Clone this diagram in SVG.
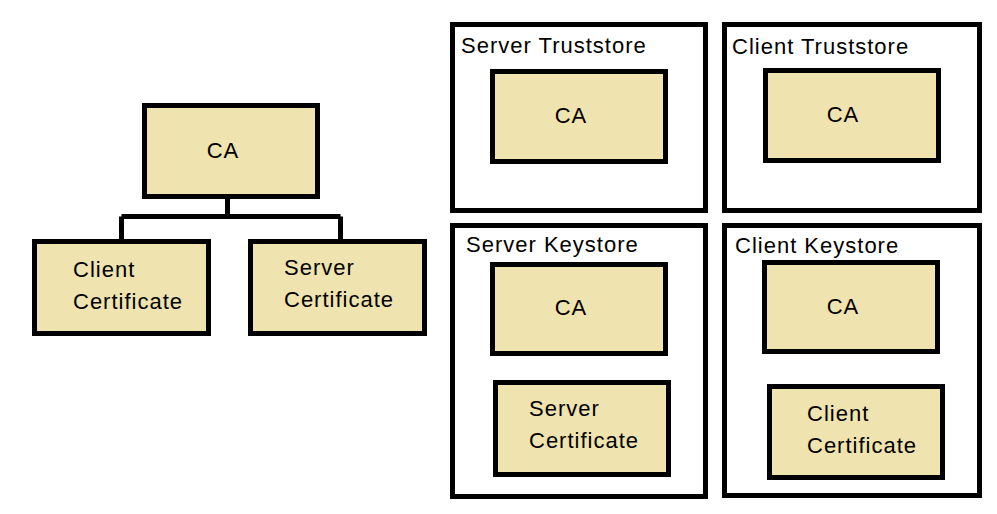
<svg xmlns="http://www.w3.org/2000/svg" width="997" height="514" viewBox="0 0 997 514">
<style>
.b{fill:#EFE3AF;stroke:#000;stroke-width:5}
.o{fill:#fff;stroke:#000;stroke-width:5}
.c{fill:none;stroke:#000;stroke-width:5}
text{font-family:"Liberation Sans",Arial,sans-serif;font-size:22px;fill:#000;letter-spacing:1px}
.m{text-anchor:middle}
</style>
<rect width="997" height="514" fill="#fff"/>
<g id="connectors">
<path class="c" d="M227.5,198.5V216.5M121.5,216.5H340.5M121.5,216.5V241.5M340.5,216.5V241.5"/>
</g>
<g id="ca-root"><rect class="b" x="144.5" y="105.5" width="173" height="91"/><text x="223" y="158" class="m">CA</text></g>
<g id="client-cert"><rect class="b" x="34.5" y="241.5" width="174" height="92"/><text x="73" y="277">Client</text><text x="73" y="309">Certificate</text></g>
<g id="server-cert"><rect class="b" x="250.5" y="241.5" width="174" height="92"/><text x="284" y="275">Server</text><text x="284" y="307">Certificate</text></g>

<g id="server-truststore"><rect class="o" x="452.5" y="24.5" width="253" height="186"/><text x="461" y="53">Server Truststore</text>
<g id="server-truststore-ca"><rect class="b" x="492.5" y="71.5" width="173" height="90"/><text x="571" y="123" class="m">CA</text></g></g>
<g id="client-truststore"><rect class="o" x="724.5" y="24.5" width="255" height="186"/><text x="732" y="54">Client Truststore</text>
<g id="client-truststore-ca"><rect class="b" x="765.5" y="70.5" width="173" height="90"/><text x="843" y="122" class="m">CA</text></g></g>
<g id="server-keystore"><rect class="o" x="452.5" y="225.5" width="253" height="271"/><text x="466" y="252">Server Keystore</text>
<g id="server-keystore-ca"><rect class="b" x="492.5" y="264.5" width="173" height="89"/><text x="571" y="315" class="m">CA</text></g>
<g id="server-keystore-cert"><rect class="b" x="495.5" y="382.5" width="173" height="92"/><text x="529" y="416">Server</text><text x="529" y="448">Certificate</text></g></g>
<g id="client-keystore"><rect class="o" x="724.5" y="225.5" width="255" height="270"/><text x="735" y="253">Client Keystore</text>
<g id="client-keystore-ca"><rect class="b" x="764.5" y="262.5" width="173" height="89"/><text x="843" y="314" class="m">CA</text></g>
<g id="client-keystore-cert"><rect class="b" x="769.5" y="386.5" width="173" height="91"/><text x="807" y="421">Client</text><text x="807" y="453">Certificate</text></g></g>
</svg>
